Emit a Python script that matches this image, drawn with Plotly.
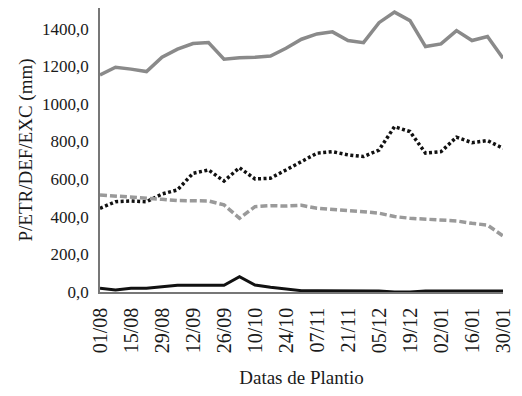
import plotly.graph_objects as go

dates = ["01/08", "08/08", "15/08", "22/08", "29/08", "05/09", "12/09", "19/09", "26/09",
         "03/10", "10/10", "17/10", "24/10", "31/10", "07/11", "14/11", "21/11", "28/11",
         "05/12", "12/12", "19/12", "26/12", "02/01", "09/01", "16/01", "23/01", "30/01"]

p_vals = [1154, 1195, 1185, 1172, 1248, 1291, 1321, 1326, 1238, 1246, 1248, 1255, 1296, 1344,
          1372, 1383, 1337, 1326, 1432, 1488, 1443, 1305, 1319, 1390, 1337, 1358, 1243]
etr_vals = [445, 480, 484, 480, 521, 543, 631, 649, 590, 661, 601, 605, 649, 693,
            738, 746, 729, 720, 755, 879, 853, 738, 746, 823, 794, 805, 764]
def_vals = [516, 511, 507, 502, 493, 486, 484, 484, 463, 392, 454, 459, 457, 461,
            445, 440, 432, 427, 419, 401, 392, 387, 383, 378, 365, 356, 298]
exc_vals = [20, 11, 20, 20, 28, 36, 36, 36, 36, 81, 37, 25, 16, 7,
            7, 7, 5, 5, 5, 0, 0, 5, 5, 5, 5, 5, 5]

y_ticks = [0, 200, 400, 600, 800, 1000, 1200, 1400]
y_ticktext = ["0,0", "200,0", "400,0", "600,0", "800,0", "1000,0", "1200,0", "1400,0"]

x = list(range(len(dates)))
tick_idx = x[::2]
tick_txt = [dates[i] for i in tick_idx]

fig = go.Figure()
fig.add_trace(go.Scatter(x=x, y=p_vals, mode="lines", name="P",
                         line=dict(color="#8a8a8a", width=3.5)))
fig.add_trace(go.Scatter(x=x, y=etr_vals, mode="lines", name="ETR",
                         line=dict(color="#111111", width=3.5, dash="3px,2.5px")))
fig.add_trace(go.Scatter(x=x, y=def_vals, mode="lines", name="DEF",
                         line=dict(color="#9a9a9a", width=3.5, dash="7px,3px")))
fig.add_trace(go.Scatter(x=x, y=exc_vals, mode="lines", name="EXC",
                         line=dict(color="#111111", width=3)))

font = "Liberation Serif"
fig.update_layout(
    width=522, height=396,
    margin=dict(l=100, r=11, t=8, b=104),
    paper_bgcolor="white", plot_bgcolor="white",
    showlegend=False,
    font=dict(family=font, color="#1a1a1a", size=17),
    xaxis=dict(
        range=[0, 26], tickmode="array", tickvals=tick_idx, ticktext=tick_txt,
        tickangle=-90, showgrid=False, zeroline=False,
        showline=True, linecolor="#777777", linewidth=1.5,
        ticks="", tickfont=dict(family=font, size=20, color="#1a1a1a"),
        ticklabelstandoff=6,
        title=dict(text="Datas de Plantio", font=dict(family=font, size=19, color="#1a1a1a"),
                   standoff=18),
    ),
    yaxis=dict(
        range=[0, 1510], tickmode="array", tickvals=y_ticks, ticktext=y_ticktext,
        showgrid=False, zeroline=False,
        showline=True, linecolor="#777777", linewidth=1.5,
        ticks="", tickfont=dict(family=font, size=17, color="#1a1a1a"),
        ticklabelstandoff=6,
        title=dict(text="P/ETR/DEF/EXC (mm)", font=dict(family=font, size=19, color="#1a1a1a"),
                   standoff=4),
    ),
)

fig.write_html("out.html")
